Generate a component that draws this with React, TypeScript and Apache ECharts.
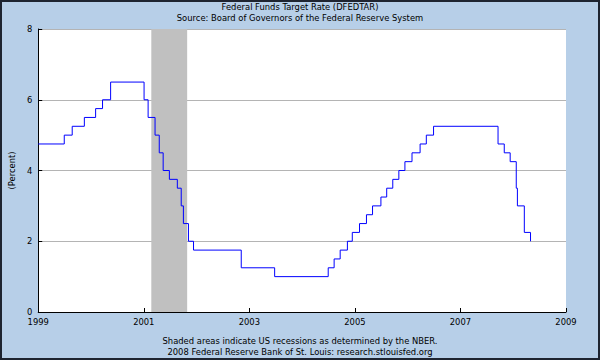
import React, { useEffect, useRef } from "react";
import * as echarts from "echarts";

const titleText = "Federal Funds Target Rate (DFEDTAR)";
const subtitleText = "Source: Board of Governors of the Federal Reserve System";
const footer1 = "Shaded areas indicate US recessions as determined by the NBER.";
const footer2 = "2008 Federal Reserve Bank of St. Louis: research.stlouisfed.org";
const yAxisName = "(Percent)";

const changeDates = [
  "1999-01-01", "1999-06-30", "1999-08-24", "1999-11-16", "2000-02-02", "2000-03-21",
  "2000-05-16", "2001-01-03", "2001-01-31", "2001-03-20", "2001-04-18", "2001-05-15",
  "2001-06-27", "2001-08-21", "2001-09-17", "2001-10-02", "2001-11-06", "2001-12-11",
  "2002-11-06", "2003-06-25", "2004-06-30", "2004-08-10", "2004-09-21", "2004-11-10",
  "2004-12-14", "2005-02-02", "2005-03-22", "2005-05-03", "2005-06-30", "2005-08-09",
  "2005-09-20", "2005-11-01", "2005-12-13", "2006-01-31", "2006-03-28", "2006-05-10",
  "2006-06-29", "2007-09-18", "2007-10-31", "2007-12-11", "2008-01-22", "2008-01-30",
  "2008-03-18", "2008-04-30",
];
const targetRates = [
  4.75, 5.0, 5.25, 5.5, 5.75, 6.0,
  6.5, 6.0, 5.5, 5.0, 4.5, 4.0,
  3.75, 3.5, 3.0, 2.5, 2.0, 1.75,
  1.25, 1.0, 1.25, 1.5, 1.75, 2.0,
  2.25, 2.5, 2.75, 3.0, 3.25, 3.5,
  3.75, 4.0, 4.25, 4.5, 4.75, 5.0,
  5.25, 4.75, 4.5, 4.25, 3.5, 3.0,
  2.25, 2.0,
];
const recessionStart = "2001-02-22";
const recessionEnd = "2001-10-28";
const xTickYears = [1999, 2001, 2003, 2005, 2007, 2009];
const yTicks = [0, 2, 4, 6, 8];

function decYear(s: string): number {
  const [y, m, d] = s.split("-").map(Number);
  const start = Date.UTC(y, 0, 1);
  const end = Date.UTC(y + 1, 0, 1);
  return y + (Date.UTC(y, m - 1, d) - start) / (end - start);
}

const FONT = "DejaVu Sans";
const FS = 8.4;

export default function App() {
  const ref = useRef<HTMLDivElement>(null);
  useEffect(() => {
    if (!ref.current) return;
    const chart = echarts.init(ref.current, null, { renderer: "svg" });
    const data = changeDates.map((d, i) => [decYear(d), targetRates[i]]);
    chart.setOption({
      animation: false,
      backgroundColor: "#B7CFE8",
      textStyle: { fontFamily: FONT },
      grid: {
        left: 35,
        right: 34,
        top: 29,
        bottom: 48,
        show: true,
        backgroundColor: "#FFFFFF",
        borderWidth: 0,
      },
      xAxis: {
        type: "value",
        min: xTickYears[0],
        max: xTickYears[xTickYears.length - 1],
        interval: 2,
        axisLine: { show: true, onZero: false, lineStyle: { color: "#000", width: 1 } },
        axisTick: { show: true, inside: true, length: 4, lineStyle: { color: "#000" } },
        axisLabel: { color: "#000", fontSize: FS, fontFamily: FONT, margin: 6, formatter: (v: number) => String(v) },
        splitLine: { show: false },
      },
      yAxis: {
        type: "value",
        min: yTicks[0],
        max: yTicks[yTicks.length - 1],
        interval: 2,
        name: yAxisName,
        nameLocation: "middle",
        nameGap: 18,
        nameRotate: 90,
        nameTextStyle: { color: "#000", fontSize: FS, fontFamily: FONT },
        axisLine: { show: true, lineStyle: { color: "#000", width: 1 } },
        axisTick: { show: true, inside: true, length: 4, lineStyle: { color: "#000" } },
        axisLabel: { color: "#000", fontSize: FS, fontFamily: FONT, margin: 6 },
        splitLine: { show: true, lineStyle: { color: "#B4B4B4", width: 1 } },
      },
      series: [
        {
          type: "line",
          step: "end",
          data,
          symbol: "none",
          showSymbol: false,
          lineStyle: { color: "#0000FF", width: 1 },
          z: 3,
          markArea: {
            silent: true,
            itemStyle: { color: "#C0C0C0", opacity: 1 },
            data: [[{ xAxis: decYear(recessionStart) }, { xAxis: decYear(recessionEnd) }]],
          },
        },
      ],
      graphic: [
        {
          type: "text",
          left: "center",
          top: 3,
          style: { text: titleText, fill: "#000", fontSize: FS, fontFamily: FONT },
        },
        {
          type: "text",
          left: "center",
          top: 14,
          style: { text: subtitleText, fill: "#000", fontSize: FS, fontFamily: FONT },
        },
        {
          type: "text",
          left: "center",
          top: 337,
          style: { text: footer1, fill: "#000", fontSize: FS, fontFamily: FONT },
        },
        {
          type: "text",
          left: "center",
          top: 348,
          style: { text: footer2, fill: "#000", fontSize: FS, fontFamily: FONT },
        },
        {
          type: "rect",
          shape: { x: 1, y: 1, width: 598, height: 358 },
          style: { fill: "none", stroke: "#1E2430", lineWidth: 2 },
          silent: true,
          z: 100,
        },
      ],
    });
    return () => chart.dispose();
  }, []);
  return (
    <div
      ref={ref}
      style={{ position: "absolute", left: 0, top: 0, width: 600, height: 360 }}
    />
  );
}
